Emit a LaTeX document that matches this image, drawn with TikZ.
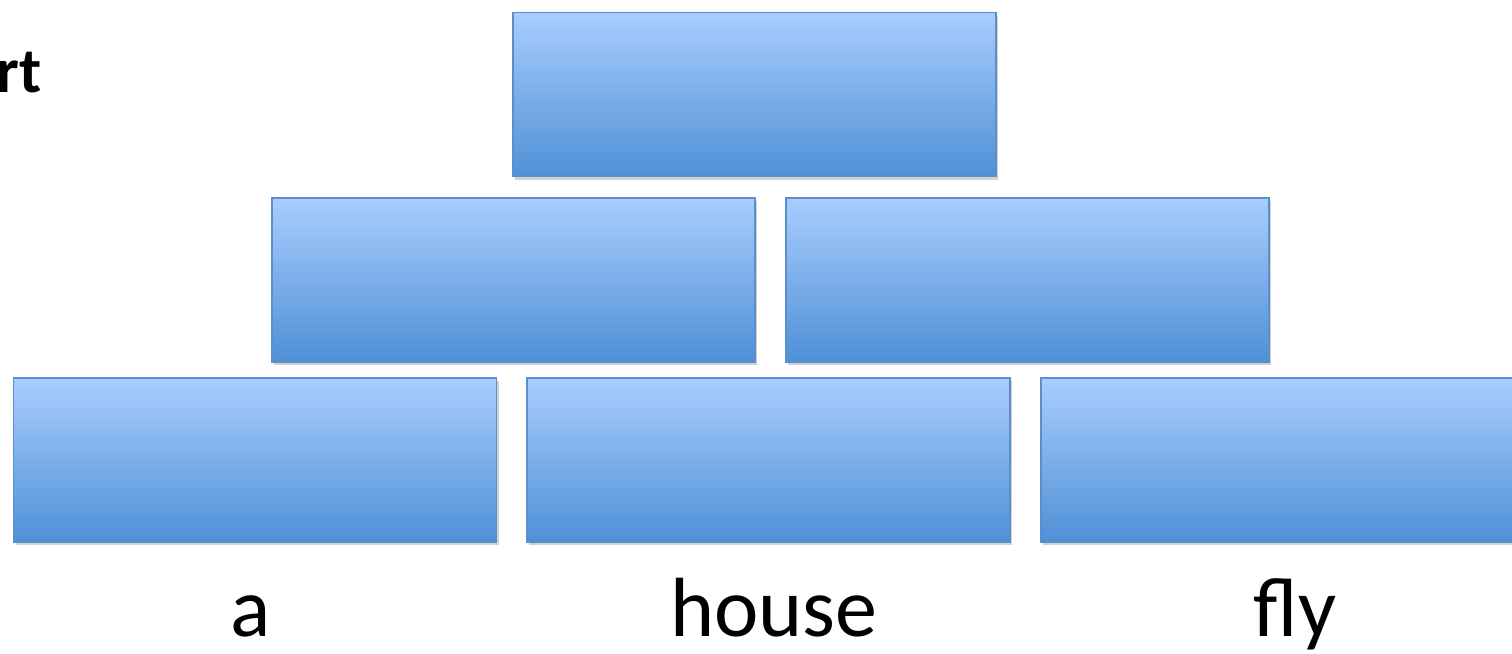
\documentclass[tikz,border=0pt]{standalone}
\usepackage{fontspec}
\setmainfont{Carlito}
\usetikzlibrary{shadows}
\definecolor{boxtop}{HTML}{A9CDFE}
\definecolor{boxbot}{HTML}{4F90D6}
\definecolor{boxline}{HTML}{5C8ECC}
\tikzset{
  blk/.style={rectangle, minimum width=483pt, minimum height=164pt, inner sep=0pt,
    top color=boxtop, bottom color=boxbot, draw=boxline, line width=1.4pt,
    drop shadow={opacity=0.3, shadow xshift=2pt, shadow yshift=-3pt, fill=black!60}},
  word/.style={font=\fontsize{84}{96}\selectfont, anchor=base, inner sep=0pt}
}
\begin{document}
\begin{tikzpicture}[x=1pt,y=-1pt]
  \useasboundingbox (0,0) rectangle (1512,653);
  \clip (0,0) rectangle (1512,653);
  % top row
  \node[blk] (root) at (754.5,94.5) {};
  % middle row
  \node[blk] (l1) at (513.5,280) {};
  \node[blk] (r1) at (1027.5,280) {};
  % bottom row
  \node[blk] (w1) at (255,460) {};
  \node[blk] (w2) at (768.5,460) {};
  \node[blk] (w3) at (1282.5,460) {};
  % words under the bottom row
  \node[word] (ta) at (251,636) {a};
  \node[word] (tb) at (774,636) {house};
  \node[word] (tc) at (1295,636) {fly};
  % title at the left edge
  \node[font=\fontsize{64}{74}\selectfont\bfseries, anchor=base east, inner sep=0pt] (title) at (42,92) {rt};
\end{tikzpicture}
\end{document}
